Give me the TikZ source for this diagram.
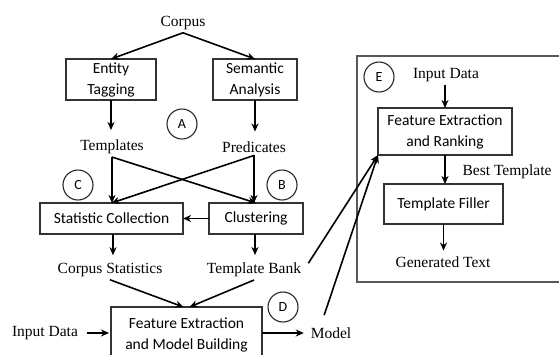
\documentclass[tikz,border=0pt]{standalone}
\usepackage{fontspec}
\setmainfont{Liberation Serif}
\newfontfamily\boxfont{Carlito}
\usetikzlibrary{arrows.meta,calc}
\begin{document}
\begin{tikzpicture}[x=1pt,y=-1pt,
  every node/.style={inner sep=0pt,outer sep=0pt},
  lbl/.style={font=\fontsize{15.5}{18}\selectfont, inner sep=3pt},
  bx/.style={draw=black!80,line width=1.1pt,font=\boxfont\fontsize{15.5}{21}\selectfont,align=center,minimum width=#1},
  circ/.style={draw=black!85,line width=1.1pt,circle,minimum size=30pt,font=\boxfont\fontsize{14}{16}\selectfont},
  arr/.style={line width=1.6pt,-{Stealth[length=8pt,width=7pt,inset=2.5pt]}},
  ln/.style={line width=1.6pt}]
\useasboundingbox (0,0) rectangle (559,354);
% left part
\node[lbl] (corpus) at (183,23) {Corpus};
\node[bx=90pt,minimum height=41pt] (entity) at (111,79.5) {Entity\\Tagging};
\node[bx=84pt,minimum height=41pt] (semantic) at (255,79.5) {Semantic\\Analysis};
\node[circ] (A) at (182,124) {A};
\node[lbl] (templates) at (112,147) {Templates};
\node[lbl] (predicates) at (254,147) {Predicates};
\node[circ] (C) at (78,185) {C};
\node[circ] (B) at (282,185) {B};
\node[bx=143pt,minimum height=31pt] (stat) at (111.5,218.5) {Statistic Collection};
\node[bx=94pt,minimum height=31pt] (clust) at (256,218.5) {Clustering};
\node[lbl] (corpstat) at (110,270) {Corpus Statistics};
\node[lbl] (tbank) at (254,270) {Template Bank};
\node[bx=151pt,minimum height=55pt] (fmb) at (186.5,334.5) {Feature Extraction\\and Model Building};
\node[circ] (D) at (283,307) {D};
\node[lbl] (inputL) at (45,333) {Input Data};
\node[lbl] (model) at (331,333) {Model};
% right part
\draw[draw=black!65,line width=1.6pt] (357,56) rectangle (570,282);
\node[circ] (E) at (379,77) {E};
\node[lbl] (inputR) at (446,75) {Input Data};
\node[bx=134pt,minimum height=47pt] (fer) at (445,131.5) {Feature Extraction\\and Ranking};
\node[lbl] (bestT) at (507,172) {Best Template};
\node[bx=119pt,minimum height=40pt] (filler) at (443.5,204) {Template Filler};
\node[lbl] (gen) at (443,262) {Generated Text};
% connectors
\draw[arr] (corpus.south) -- (entity.north);
\draw[arr] (corpus.south) -- (semantic.north);
\draw[arr,shorten >=7pt] (entity.south) -- (entity.south |- templates.north);
\draw[arr,shorten >=7pt] (semantic.south) -- (semantic.south |- predicates.north);
\draw[arr] (templates.south) -- (templates.south |- stat.north);
\draw[arr] (templates.south) -- (clust.north);
\draw[arr] (predicates.south) -- (predicates.south |- clust.north);
\draw[arr] (predicates.south) -- (stat.north);
\draw[arr] (clust.west) -- (stat.east);
\draw[arr,shorten >=5pt] ([xshift=1.5pt]stat.south) -- ([xshift=1.5pt]stat.south |- corpstat.north);
\draw[arr,shorten >=5pt] ([xshift=-1pt]clust.south) -- ([xshift=-1pt]clust.south |- tbank.north);
\draw[arr] (corpstat.south) -- ([xshift=-3pt]fmb.north);
\draw[arr] (tbank.south) -- ([xshift=3pt]fmb.north);
\draw[arr,shorten <=6pt,shorten >=2pt] (inputL.east) -- (inputL.east -| fmb.west);
\draw[arr,shorten >=4pt] (fmb.east |- model.west) -- (model.west);
\draw[arr,shorten <=8pt] (tbank.east) -- (fer.south west);
\draw[arr,shorten <=10pt] ([xshift=-10pt]model.north) -- (fer.south west);
\draw[arr] (inputR.south -| fer.north) -- (fer.north);
\draw[arr] (fer.south) -- (fer.south |- filler.north);
\draw[arr,shorten >=3pt] (filler.south) -- (filler.south |- gen.north);
\end{tikzpicture}
\end{document}
